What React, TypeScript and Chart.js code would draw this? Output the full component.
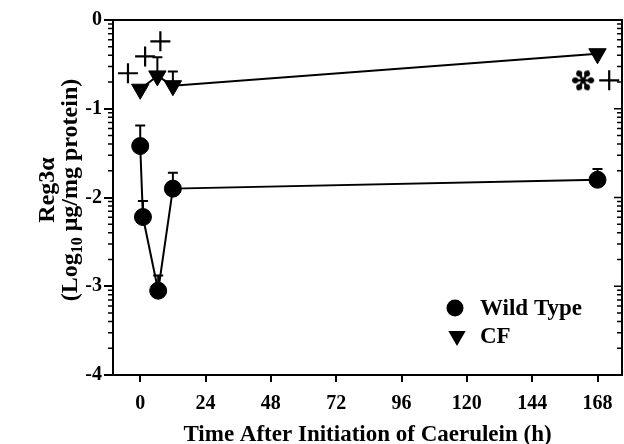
import React, { useEffect, useRef } from 'react';
import { Chart, registerables } from 'chart.js';

Chart.register(...registerables);

// ---- data ----
const wtTimes = [0, 1, 6.6, 12, 168];
const wtValues = [-1.42, -2.22, -3.05, -1.9, -1.8];
const wtErrUpper = [-1.19, -2.04, -2.88, -1.72, -1.68];

const cfTimes = [0, 6.3, 12, 168];
const cfValues = [-0.78, -0.63, -0.74, -0.38];
const cfErrUpper: (number | null)[] = [null, -0.42, -0.58, null];

const plusTimes = [-4.5, 1.8, 7.4, 172.3];
const plusValues = [-0.6, -0.41, -0.24, -0.68];

const starTimes = [162.7];
const starValues = [-0.68];

const xTicks = [0, 24, 48, 72, 96, 120, 144, 168];
const yTicks = [0, -1, -2, -3, -4];

const legendLabels = ['Wild Type', 'CF'];
const xTitle = 'Time After Initiation of Caerulein (h)';
const yTitle1 = 'Reg3\u03b1';
const yTitle2Parts = ['(Log', '10', ' \u03bcg/mg protein)'];

const FONT_FAMILY = "'Liberation Serif', 'Times New Roman', serif";
const TICK_FONT = { family: FONT_FAMILY, size: 20, weight: 'bold' as const };
const TITLE_FONT = { family: FONT_FAMILY, size: 23, weight: 'bold' as const };

function makeAsterisk(): HTMLCanvasElement {
  const c = document.createElement('canvas');
  c.width = 28;
  c.height = 28;
  const ctx = c.getContext('2d')!;
  ctx.translate(14, 14);
  ctx.strokeStyle = '#000';
  ctx.fillStyle = '#000';
  ctx.lineCap = 'round';
  for (let i = 0; i < 6; i++) {
    const a = (i * Math.PI) / 3;
    ctx.beginPath();
    ctx.lineWidth = 2.5;
    ctx.moveTo(0, 0);
    ctx.lineTo(Math.cos(a) * 10, Math.sin(a) * 10);
    ctx.stroke();
    ctx.beginPath();
    ctx.arc(Math.cos(a) * 7.8, Math.sin(a) * 7.8, 3, 0, Math.PI * 2);
    ctx.fill();
  }
  return c;
}

const errorBars = {
  id: 'errorBars',
  beforeDatasetsDraw(chart: any) {
    const { ctx } = chart;
    const y = chart.scales.y;
    chart.data.datasets.forEach((ds: any, di: number) => {
      if (!ds.errUpper) return;
      const meta = chart.getDatasetMeta(di);
      meta.data.forEach((pt: any, i: number) => {
        const e = ds.errUpper[i];
        if (e === null || e === undefined) return;
        const yt = y.getPixelForValue(e);
        ctx.save();
        ctx.strokeStyle = '#000';
        ctx.lineWidth = 2;
        ctx.beginPath();
        ctx.moveTo(pt.x, pt.y);
        ctx.lineTo(pt.x, yt);
        ctx.moveTo(pt.x - 5, yt);
        ctx.lineTo(pt.x + 5, yt);
        ctx.stroke();
        ctx.restore();
      });
    });
  },
};

const frameAndText = {
  id: 'frameAndText',
  afterDraw(chart: any) {
    const { ctx, chartArea } = chart;
    const { left, right, top, bottom } = chartArea;
    const ys = chart.scales.y;
    ctx.save();
    ctx.strokeStyle = '#000';
    ctx.lineWidth = 2;
    ctx.beginPath();
    ctx.moveTo(left, top);
    ctx.lineTo(right, top);
    ctx.lineTo(right, bottom);
    ctx.stroke();
    // minor log ticks
    ctx.lineWidth = 1.5;
    ctx.beginPath();
    for (let d = 0; d < 4; d++) {
      for (let k = 2; k <= 9; k++) {
        const v = -(d + 1) + Math.log10(k);
        const py = ys.getPixelForValue(v);
        ctx.moveTo(left - 5, py);
        ctx.lineTo(left, py);
        ctx.moveTo(right - 5, py);
        ctx.lineTo(right, py);
      }
    }
    yTicks.forEach((v) => {
      const py = ys.getPixelForValue(v);
      ctx.moveTo(right - 8, py);
      ctx.lineTo(right, py);
    });
    ctx.stroke();

    // y title
    ctx.fillStyle = '#000';
    const cy = 190;
    const big = `bold 24px ${FONT_FAMILY}`;
    const small = `bold 16px ${FONT_FAMILY}`;
    ctx.font = big;
    ctx.textBaseline = 'alphabetic';
    ctx.save();
    ctx.translate(54, cy);
    ctx.rotate(-Math.PI / 2);
    ctx.textAlign = 'center';
    ctx.fillText(yTitle1, 0, 0);
    ctx.restore();

    ctx.save();
    ctx.translate(77, cy);
    ctx.rotate(-Math.PI / 2);
    ctx.textAlign = 'left';
    ctx.font = big;
    const w0 = ctx.measureText(yTitle2Parts[0]).width;
    const w2 = ctx.measureText(yTitle2Parts[2]).width;
    ctx.font = small;
    const w1 = ctx.measureText(yTitle2Parts[1]).width;
    let x = -(w0 + w1 + w2) / 2;
    ctx.font = big;
    ctx.fillText(yTitle2Parts[0], x, 0);
    x += w0;
    ctx.font = small;
    ctx.fillText(yTitle2Parts[1], x, 5);
    x += w1;
    ctx.font = big;
    ctx.fillText(yTitle2Parts[2], x, 0);
    ctx.restore();

    // legend
    const lx = 455;
    const ly1 = 308;
    const ly2 = 336;
    ctx.beginPath();
    ctx.arc(lx, ly1, 8.5, 0, Math.PI * 2);
    ctx.fill();
    ctx.beginPath();
    const r = 10;
    ctx.moveTo(lx + 2 - r * Math.sin(Math.PI / 3), ly2 - r / 2);
    ctx.lineTo(lx + 2 + r * Math.sin(Math.PI / 3), ly2 - r / 2);
    ctx.lineTo(lx + 2, ly2 + r);
    ctx.closePath();
    ctx.fill();
    ctx.font = `bold 23px ${FONT_FAMILY}`;
    ctx.textAlign = 'left';
    ctx.textBaseline = 'middle';
    ctx.fillText(legendLabels[0], 480, ly1 + 1);
    ctx.fillText(legendLabels[1], 480, ly2 + 1);
    ctx.restore();
  },
};

export default function App() {
  const ref = useRef<HTMLCanvasElement>(null);
  useEffect(() => {
    if (!ref.current) return;
    const asterisk = makeAsterisk();
    const chart = new Chart(ref.current, {
      type: 'scatter',
      data: {
        datasets: [
          {
            label: legendLabels[0],
            data: wtTimes.map((t, i) => ({ x: t, y: wtValues[i] })),
            showLine: true,
            borderColor: '#000',
            backgroundColor: '#000',
            borderWidth: 2,
            pointStyle: 'circle',
            pointRadius: 8.5,
            pointBorderWidth: 1,
            errUpper: wtErrUpper,
            clip: false,
          } as any,
          {
            label: legendLabels[1],
            data: cfTimes.map((t, i) => ({ x: t, y: cfValues[i] })),
            showLine: true,
            borderColor: '#000',
            backgroundColor: '#000',
            borderWidth: 2,
            pointStyle: 'triangle',
            pointRotation: 180,
            pointRadius: 10,
            pointBorderWidth: 1,
            errUpper: cfErrUpper,
            clip: false,
          } as any,
          {
            label: 'plus',
            data: plusTimes.map((t, i) => ({ x: t, y: plusValues[i] })),
            showLine: false,
            borderColor: '#000',
            backgroundColor: '#000',
            pointStyle: 'cross',
            pointRadius: 10,
            pointBorderWidth: 2.2,
            clip: false,
          } as any,
          {
            label: 'star',
            data: starTimes.map((t, i) => ({ x: t, y: starValues[i] })),
            showLine: false,
            pointStyle: asterisk,
            clip: false,
          } as any,
        ],
      },
      options: {
        responsive: false,
        animation: false,
        layout: { autoPadding: false, padding: { left: 85, right: 2, top: 20, bottom: 0 } },
        plugins: { legend: { display: false }, tooltip: { enabled: false } },
        scales: {
          x: {
            type: 'linear',
            min: -10,
            max: 177,
            afterBuildTicks: (s: any) => {
              s.ticks = xTicks.map((v) => ({ value: v }));
            },
            afterFit: (s: any) => {
              s.height = 69;
            },
            ticks: { font: TICK_FONT, color: '#000', padding: 10, maxRotation: 0 },
            grid: { drawOnChartArea: false, drawTicks: true, tickLength: 7, color: '#000', lineWidth: 2 },
            border: { display: true, color: '#000', width: 2 },
            title: { display: true, text: xTitle, font: TITLE_FONT, color: '#000', padding: { top: 0, bottom: -5 } },
          },
          y: {
            type: 'linear',
            min: -4,
            max: 0,
            afterBuildTicks: (s: any) => {
              s.ticks = yTicks.map((v) => ({ value: v }));
            },
            afterFit: (s: any) => {
              s.width = 28;
            },
            ticks: { font: TICK_FONT, color: '#000', padding: 2 },
            grid: { drawOnChartArea: false, drawTicks: true, tickLength: 9, color: '#000', lineWidth: 2 },
            border: { display: true, color: '#000', width: 2 },
          },
        },
      },
      plugins: [errorBars, frameAndText],
    });
    return () => chart.destroy();
  }, []);
  return (
    <div style={{ position: 'fixed', left: 0, top: 0, width: 624, height: 444, background: '#fff' }}>
      <canvas ref={ref} width={624} height={444} style={{ display: 'block' }} />
    </div>
  );
}
